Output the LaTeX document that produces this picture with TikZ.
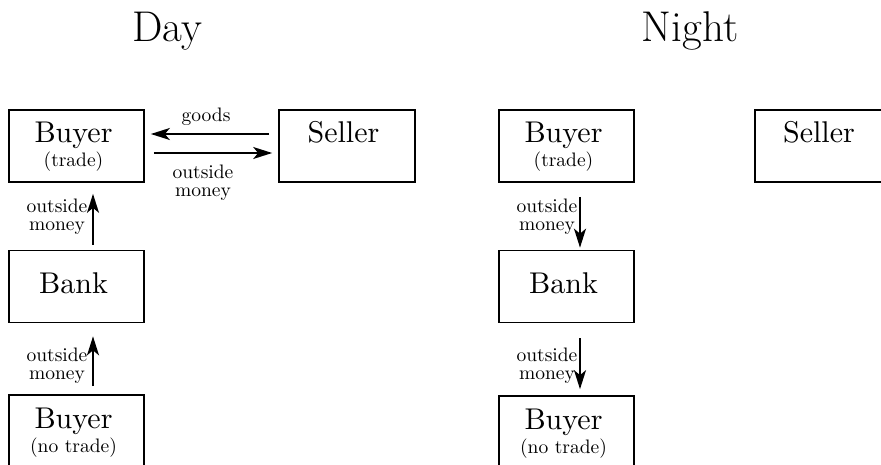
\documentclass[tikz,border=0pt]{standalone}
\usepackage{fontspec}
\newfontface\tenrm{lmroman10-regular}[Extension=.otf]
\usetikzlibrary{arrows.meta,calc}
\tikzset{
 box/.style={draw, line width=1.7pt, minimum width=135pt, minimum height=72pt, inner sep=0pt},
 big/.style={font=\tenrm\fontsize{30}{30}\selectfont, anchor=base, inner sep=0pt},
 small/.style={font=\tenrm\fontsize{19.5}{19.5}\selectfont, anchor=base, inner sep=0pt},
 lab/.style={font=\tenrm\fontsize{19.5}{18}\selectfont, align=center, inner sep=0pt},
 ttl/.style={font=\fontsize{43}{43}\selectfont, anchor=base, inner sep=0pt},
 flow/.style={line width=1.8pt, -{Stealth[length=19pt,width=12pt,inset=5pt]}},
}
\begin{document}
\begin{tikzpicture}[x=1pt,y=-1pt]
\clip (0,0) rectangle (881,465);
% titles
\node[ttl] (day) at (167,42) {Day};
\node[ttl] (night) at (690,42) {Night};
% Day boxes
\node[box] (dB1) at (76.5,146) {};
\node[box, minimum width=136pt] (dS) at (347,146) {};
\node[box] (dK) at (76.5,286.5) {};
\node[box] (dB2) at (76.5,431) {};
\node[big] (dB1t) at (73.5,143) {Buyer};
\node[small] (dB1s) at (73.5,167) {(trade)};
\node[big] (dSt) at (343.5,143) {Seller};
\node[big] (dKt) at (73.5,293) {Bank};
\node[big] (dB2t) at (73.5,428) {Buyer};
\node[small] (dB2s) at (73.5,452) {(no trade)};
% Night boxes
\node[box] (nB1) at (566.5,146) {};
\node[box] (nS) at (822.5,146) {};
\node[box] (nK) at (566.5,286.5) {};
\node[box] (nB2) at (566.5,432) {};
\node[big] (nB1t) at (563.5,143) {Buyer};
\node[small] (nB1s) at (563.5,167) {(trade)};
\node[big] (nSt) at (819,143) {Seller};
\node[big] (nKt) at (563.5,293) {Bank};
\node[big] (nB2t) at (563.5,429) {Buyer};
\node[small] (nB2s) at (563.5,453) {(no trade)};
% Day arrows
\draw[flow] ($(dS.west)+(-9,-12)$) -- ($(dB1.east)+(6,-12)$);
\draw[flow] ($(dB1.east)+(9,7)$) -- ($(dS.west)+(-6,7)$);
\node[small] (gl) at (206,122) {goods};
\node[lab] (ml) at (203,183) {outside\\money};
\draw[flow] ($(dK.north)+(16.5,-5)$) -- ($(dB1.south)+(16.5,11)$);
\draw[flow] ($(dB2.north)+(16.5,-8)$) -- ($(dK.south)+(16.5,13)$);
\node[lab] (dl1) at (57,217) {outside\\money};
\node[lab] (dl2) at (57,366) {outside\\money};
% Night arrows
\draw[flow] ($(nB1.south)+(13.5,14)$) -- ($(nK.north)+(13.5,-2)$);
\draw[flow] ($(nK.south)+(13.5,15)$) -- ($(nB2.north)+(13.5,-6)$);
\node[lab] (nl1) at (547,217) {outside\\money};
\node[lab] (nl2) at (547,366) {outside\\money};
\end{tikzpicture}
\end{document}
